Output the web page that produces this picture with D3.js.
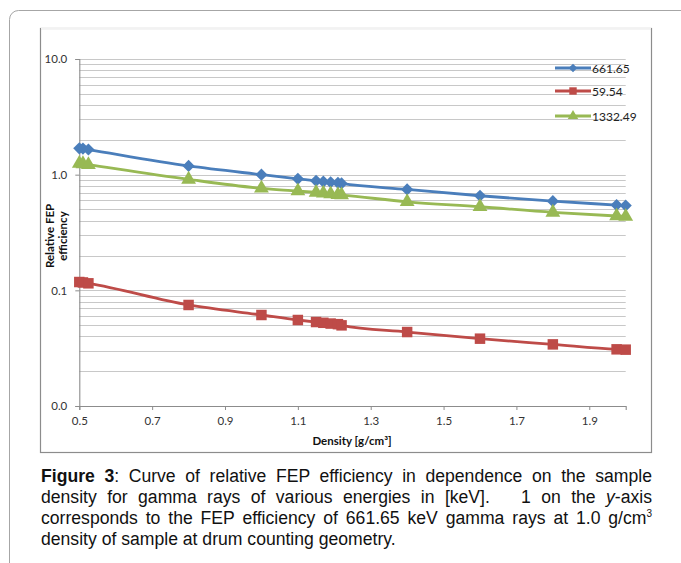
<!DOCTYPE html>
<html><head><meta charset="utf-8">
<script src="https://cdn.jsdelivr.net/npm/d3@7"></script>
<style>
html,body{margin:0;padding:0;background:#fff;}
#wrap{position:relative;width:681px;height:563px;overflow:hidden;}
svg{position:absolute;left:0;top:0;}
.cap{position:absolute;left:41px;width:611px;font-family:"Liberation Sans",Arial,sans-serif;font-size:17.6px;color:#111;white-space:nowrap;line-height:20px;}
.just{text-align:justify;text-align-last:justify;white-space:normal;}
</style></head>
<body><div id="wrap"></div>
<script>
const density = [0.5, 0.51, 0.525, 0.8, 1.0, 1.1, 1.15, 1.17, 1.19, 1.21, 1.22, 1.4, 1.6, 1.8, 1.975, 2.0];
const eff661 = [1.69, 1.68, 1.65, 1.19, 1.0, 0.92, 0.885, 0.87, 0.86, 0.85, 0.84, 0.746, 0.657, 0.59, 0.546, 0.54];
const eff59 = [0.118, 0.117, 0.115, 0.0747, 0.0612, 0.0554, 0.0532, 0.0524, 0.0516, 0.051, 0.0498, 0.0436, 0.0382, 0.0341, 0.0309, 0.0307];
const eff1332 = [1.25, 1.24, 1.22, 0.91, 0.762, 0.721, 0.70, 0.69, 0.68, 0.67, 0.666, 0.583, 0.528, 0.472, 0.439, 0.435];
const seriesNames = ["661.65", "59.54", "1332.49"];
const xTicks = [0.5, 0.7, 0.9, 1.1, 1.3, 1.5, 1.7, 1.9];
const yTicks = [0.01, 0.1, 1, 10];
const yTickLabels = ["0.0", "0.1", "1.0", "10.0"];
const captionLines = [
  "density for gamma rays of various energies in [keV].&nbsp;&nbsp; 1 on the <i>y</i>-axis",
  "corresponds to the FEP efficiency of 661.65 keV gamma rays at 1.0 g/cm<sup style=\"font-size:10px;vertical-align:7px;line-height:0\">3</sup>"
];

const colors = ["#4a7ebb", "#be4b48", "#98b954"];
const excelDiamond = {draw(ctx, size){const r = Math.sqrt(size / 2); ctx.moveTo(0, -r); ctx.lineTo(r, 0); ctx.lineTo(0, r); ctx.lineTo(-r, 0); ctx.closePath();}};
const symbols = [excelDiamond, d3.symbolSquare, d3.symbolTriangle];
const symSizes = [74, 110, 95];
const series = [eff661, eff59, eff1332];

const wrap = d3.select("#wrap");
const svg = wrap.append("svg").attr("width", 681).attr("height", 563);
const font = "Lato, 'Open Sans', sans-serif";

// outer frame
svg.append("rect").attr("x", 9.5).attr("y", 10.5).attr("width", 700).attr("height", 600)
  .attr("rx", 9).attr("fill", "none").attr("stroke", "#a6a6a6").attr("stroke-width", 1);
// chart box
svg.append("rect").attr("x", 40.5).attr("y", 28.5).attr("width", 611).attr("height", 424)
  .attr("fill", "none").attr("stroke", "#8c8c8c").attr("stroke-width", 1.2);
svg.append("line").attr("x1", 41).attr("x2", 651).attr("y1", 28.5).attr("y2", 28.5)
  .attr("stroke", "#f2f2f2").attr("stroke-width", 1.5);

const x = d3.scaleLinear().domain([0.5, 2.0]).range([79.3, 625.7]);
const y = d3.scaleLog().domain([0.01, 10]).range([406, 59]);

// gridlines
const gridVals = [];
for (let e = -2; e <= 0; e++) for (let m = 2; m <= 10; m++) gridVals.push(m * Math.pow(10, e));
svg.append("g").selectAll("line").data(gridVals).join("line")
  .attr("x1", x(0.5)).attr("x2", x(2.0))
  .attr("y1", d => Math.round(y(d)) + 0.5).attr("y2", d => Math.round(y(d)) + 0.5)
  .attr("stroke", "#c8c8c8").attr("stroke-width", 1.1);

// axes
const yAxis = d3.axisLeft(y).tickValues(yTicks).tickFormat((d, i) => yTickLabels[i]).tickSize(4).tickPadding(8);
const gy = svg.append("g").attr("transform", `translate(${x(0.5)},0)`).call(yAxis);
const xAxis = d3.axisBottom(x).tickValues(xTicks).tickFormat(d3.format(".1f")).tickSize(4).tickPadding(7);
const gx = svg.append("g").attr("transform", `translate(0,${y(0.01)})`).call(xAxis);
[gx, gy].forEach(g => {
  g.select(".domain").attr("stroke", "#8c8c8c").attr("stroke-width", 1.1);
  g.selectAll(".tick line").attr("stroke", "#8c8c8c");
  g.selectAll("text").attr("font-family", font).attr("font-size", 11.5).attr("fill", "#333");
});

// axis titles
svg.append("text").attr("x", 352).attr("y", 445).attr("text-anchor", "middle")
  .attr("font-family", font).attr("font-size", 11.5).attr("font-weight", "bold").attr("fill", "#111")
  .text("Density [g/cm³]");
const yt = svg.append("text").attr("transform", "translate(55,236) rotate(-90)")
  .attr("text-anchor", "middle").attr("font-family", font).attr("font-size", 11.5)
  .attr("font-weight", "bold").attr("fill", "#111");
yt.append("tspan").attr("x", 0).attr("dy", -1).text("Relative FEP");
yt.append("tspan").attr("x", 0).attr("dy", 13).text("efficiency");

// series
const line = d3.line().x(d => x(d[0])).y(d => y(d[1])).curve(d3.curveMonotoneX);
series.forEach((vals, i) => {
  const pts = density.map((d, j) => [d, vals[j]]);
  svg.append("path").datum(pts).attr("d", line).attr("fill", "none")
    .attr("stroke", colors[i]).attr("stroke-width", 2.8);
  svg.append("g").selectAll("path").data(pts).join("path")
    .attr("d", d3.symbol(symbols[i], symSizes[i]))
    .attr("transform", d => `translate(${x(d[0])},${y(d[1])})`)
    .attr("fill", colors[i]);
});

// legend
const legY = [68, 91, 116];
seriesNames.forEach((n, i) => {
  const g = svg.append("g").attr("transform", `translate(555,${legY[i]})`);
  g.append("line").attr("x1", 0).attr("x2", 36).attr("stroke", colors[i]).attr("stroke-width", 2.8);
  g.append("path").attr("d", d3.symbol(symbols[i], symSizes[i] * 0.5)).attr("transform", "translate(18,0)").attr("fill", colors[i]);
  g.append("text").attr("x", 37).attr("y", 4.5).attr("font-family", font).attr("font-size", 12)
    .attr("fill", "#222").text(n);
});

// caption
wrap.append("div").attr("class", "cap just").style("top", "466px")
  .html("<b>Figure 3</b>: Curve of relative FEP efficiency in dependence on the sample");
captionLines.forEach((t, i) => {
  wrap.append("div").attr("class", "cap just").style("top", (487 + 21 * i) + "px").html(t);
});
wrap.append("div").attr("class", "cap").style("top", "529px")
  .text("density of sample at drum counting geometry.");
</script></body></html>
